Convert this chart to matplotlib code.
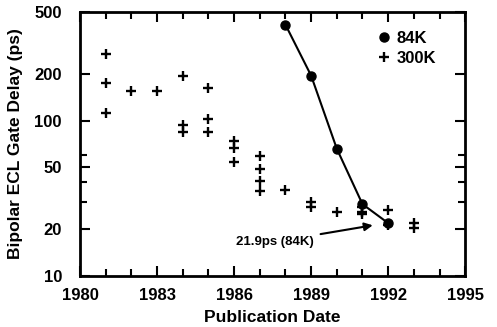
import numpy as np
import matplotlib.pyplot as plt
from matplotlib.ticker import FixedLocator, NullFormatter

plt.rcParams['font.family'] = ['Liberation Sans', 'DejaVu Sans']
plt.rcParams['font.weight'] = 'bold'

# 84K data (circles, connected)
years_84k = [1988, 1989, 1990, 1991, 1992]
delay_84k = [415, 195, 66, 29, 21.9]

# 300K data (plus markers)
years_300k = [1981, 1981, 1981, 1982, 1983, 1984, 1984, 1984,
              1985, 1985, 1985, 1986, 1986, 1986,
              1987, 1987, 1987, 1987, 1988, 1989, 1989, 1990,
              1991, 1991, 1991, 1992, 1992, 1993, 1993]
delay_300k = [270, 176, 112, 155, 155, 193, 94, 85,
              162, 102, 85, 74, 67, 54,
              59, 49, 41, 35, 36, 30, 28, 26,
              28, 26, 25, 26.5, 21.3, 22, 20.3]

x_ticks = [1980, 1983, 1986, 1989, 1992, 1995]
y_ticks = [10, 20, 50, 100, 200, 500]

fig = plt.figure(figsize=(4.97, 3.27), dpi=100)
ax = fig.add_axes([0.161, 0.156, 0.775, 0.807])

ax.plot(years_84k, delay_84k, '-', color='k', lw=1.5, zorder=2)
ax.plot(years_84k, delay_84k, 'o', color='k', ms=6.5, zorder=3,
        label='84K')
ax.plot(years_300k, delay_300k, '+', color='k', ms=6.5, mew=1.7, zorder=3,
        label='300K')

ax.set_yscale('log')
ax.set_xlim(1980, 1995)
ax.set_ylim(10, 500)
ax.set_xticks(x_ticks)
ax.xaxis.set_minor_locator(FixedLocator(range(1980, 1996)))
ax.yaxis.set_major_locator(FixedLocator(y_ticks))
ax.yaxis.set_minor_locator(FixedLocator([30, 40, 60]))
ax.yaxis.set_minor_formatter(NullFormatter())
ax.set_yticklabels([str(v) for v in y_ticks])

ax.tick_params(which='both', direction='in', top=True, right=True,
               labelsize=12, width=1.5)
ax.tick_params(axis='x', pad=9)
ax.tick_params(axis='y', pad=13)
ax.tick_params(which='major', length=7)
ax.tick_params(which='minor', length=5)
for sp in ax.spines.values():
    sp.set_linewidth(2)

ax.set_xlabel('Publication Date', fontsize=12.5, fontweight='bold', labelpad=5)
ax.set_ylabel('Bipolar ECL Gate Delay (ps)', fontsize=12.5, fontweight='bold',
              labelpad=8)

ax.legend(loc='upper left', frameon=False, fontsize=12, handlelength=0.7,
          handletextpad=0.4, labelspacing=0.3, borderaxespad=0, borderpad=0,
          bbox_to_anchor=(0.775, 0.93))

ax.annotate('21.9ps (84K)', xy=(1991.4, 21.2), xytext=(1989.1, 16.6),
            fontsize=9.5, fontweight='bold', ha='right', va='center',
            arrowprops=dict(arrowstyle='-|>', color='k', lw=1.5,
                            mutation_scale=12, shrinkA=3, shrinkB=0))

fig.savefig('out.png', dpi=100)
